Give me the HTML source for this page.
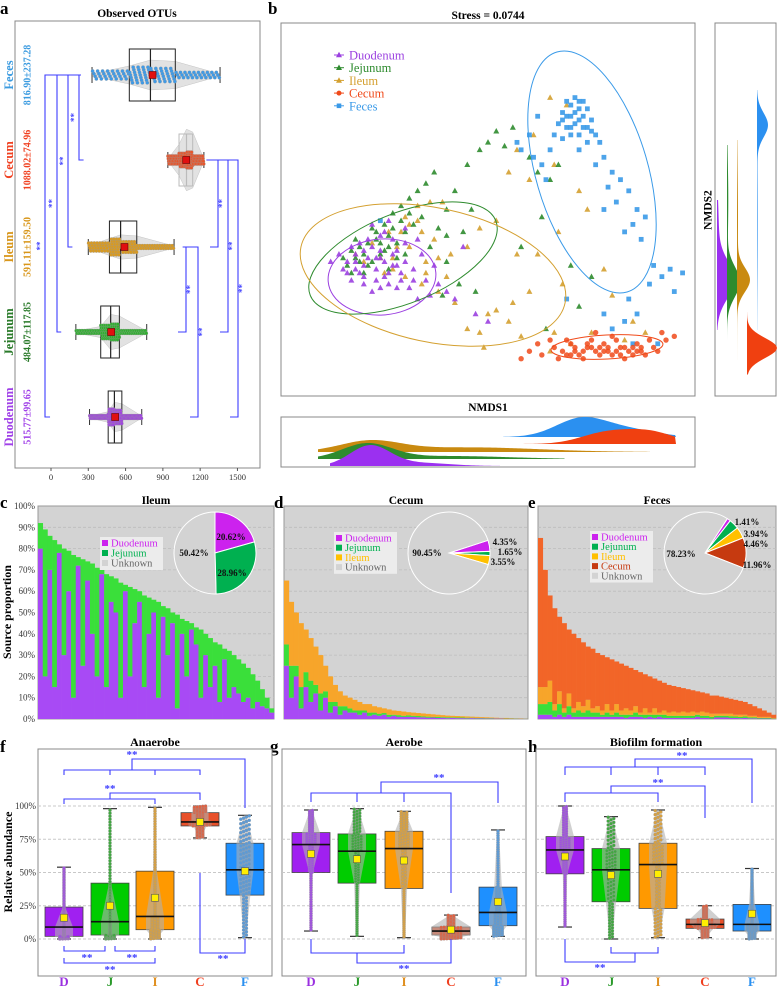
<!DOCTYPE html>
<html><head><meta charset="utf-8"><style>
html,body{margin:0;padding:0;background:#fff;}
svg{display:block;font-family:"Liberation Serif",serif;}
</style></head><body>
<svg id="fig" width="778" height="990" viewBox="0 0 778 990" xmlns="http://www.w3.org/2000/svg"></svg>
<script>
// ---------- DATA ----------
const otuGroups = ["Feces","Cecum","Ileum","Jejunum","Duodenum"];
const otuLabels = ["816.90±237.28","1088.02±74.96","591.11±159.50","484.07±117.85","515.77±99.65"];
const otuStats = [[630,800,1000,330,1360,817],[1030,1090,1140,940,1230,1088],[470,560,690,300,990,591],[400,480,550,200,770,484],[460,510,570,310,730,516]];
const otuTicks = [0,300,600,900,1200,1500];
const duoPts = [[16,36],[18,38],[20,35],[22,40],[24,37],[26,33],[28,39],[30,36],[19,33],[21,42],[25,44],[27,42],[23,31],[29,31],[32,34],[34,38],[17,40],[20,30],[24,29],[31,29],[35,31],[37,35],[22,46],[26,47],[30,45],[33,42],[18,34],[21,37],[25,36],[28,35],[38,30],[40,28],[42,26],[36,27],[33,26],[44,40],[12,36],[14,38],[15,34],[47,22],[50,20],[24,39],[27,38],[19,41],[16,33],[17,31],[20,32],[23,34],[26,30],[29,33],[32,31],[22,28],[25,32],[28,29],[30,41],[24,43],[20,39],[18,36],[23,37],[27,35]];
const jejPts = [[15,37],[17,39],[19,36],[21,41],[23,44],[25,46],[27,49],[29,51],[31,53],[33,55],[35,57],[37,60],[20,33],[24,38],[28,41],[30,44],[32,46],[34,48],[18,42],[22,45],[26,43],[36,40],[38,45],[40,50],[42,55],[45,62],[48,66],[50,68],[52,71],[54,67],[56,72],[60,64],[62,60],[65,58],[67,62],[46,50],[44,44],[40,36],[43,30],[47,28],[39,27],[58,40],[63,48],[70,35],[75,32],[72,24],[64,18],[40,43],[30,38],[26,34],[16,35],[18,37],[20,38],[22,36],[24,41],[26,40],[28,37],[17,33],[21,35],[25,39],[29,47],[31,49],[27,45],[23,42],[19,40]];
const ilePts = [[18,38],[22,41],[26,44],[30,48],[33,51],[36,52],[39,52],[28,40],[34,44],[37,42],[41,38],[45,40],[48,45],[52,47],[55,60],[60,58],[57,66],[61,70],[65,80],[69,78],[66,62],[72,55],[74,50],[67,44],[62,38],[60,28],[68,30],[78,34],[80,27],[85,20],[88,17],[83,15],[75,17],[70,14],[66,17],[58,16],[55,20],[50,22],[48,17],[45,18],[42,25],[38,28],[34,30],[30,32],[27,34],[24,37],[35,36],[31,40],[20,36],[57,38],[29,44],[31,46],[33,47],[27,37],[25,33],[35,33],[38,37],[40,32],[52,23],[56,25],[49,13],[65,12]];
const fecPts = [[68,76],[70,78],[72,77],[71,73],[73,75],[69,72],[74,72],[72,70],[70,70],[67,73],[75,74],[73,79],[71,80],[69,79],[76,70],[74,68],[66,70],[68,69],[77,68],[72,66],[65,66],[61,64],[58,66],[57,68],[63,62],[64,58],[78,64],[80,60],[76,62],[82,58],[79,56],[84,55],[81,52],[86,50],[88,48],[85,46],[83,44],[87,42],[78,50],[90,35],[92,32],[94,34],[97,33],[95,28],[89,30],[86,22],[84,26],[78,22],[80,18],[83,20],[85,14],[91,14],[69,26],[24,47],[62,75],[60,70],[70,75],[72,74],[71,76],[73,72],[69,75],[74,77],[70,72],[72,79],[75,71],[68,74]];
const cecPts = [[66,13],[68,12],[70,14],[72,11],[74,13],[76,12],[78,14],[80,11],[82,13],[84,12],[86,14],[88,11],[90,13],[67,10],[69,15],[71,12],[73,10],[75,15],[77,11],[79,13],[81,15],[83,10],[85,13],[87,12],[89,15],[91,12],[70,11],[74,14],[78,12],[82,11],[86,12],[62,14],[60,12],[58,10],[63,11],[93,15],[95,16],[92,17],[65,15],[80,16],[76,17],[71,13],[73,12],[75,13],[77,13],[79,12],[81,12],[83,13],[85,11],[87,13],[69,11]];
const cDuo = [80,20,70,15,78,30,60,10,72,25,65,40,20,68,15,55,50,10,60,20,45,55,15,40,50,10,48,30,45,5,40,20,42,35,10,30,15,25,8,28,10,15,12,8,10,5,8,6,5,3];
const cJej = [12,69,16,69,4,50,19,67,4,50,9,33,51,2,53,12,16,54,3,42,16,5,43,17,6,45,5,22,5,44,7,26,3,8,32,10,23,11,27,5,22,15,16,18,14,16,10,8,5,2];
const dDuo = [25,10,20,5,15,8,12,4,10,3,6,2,4,3,3,2,3,1.5,2,1.5,2,1,1.5,1,1,1,1,0.8,0.8,0.6,0.7,0.5,0.6,0.4,0.5,0.4,0.4,0.3,0.4,0.3,0.3,0.2,0.2,0.2,0.2,0.1,0.1,0.1,0.1,0.05];
const dJej = [10,15,5,10,7,10,4,8,3,5,2,4,2,2,1,2,1,1.5,1,1,0.8,1,0.5,0.8,0.5,0.7,0.5,0.6,0.4,0.5,0.3,0.5,0.3,0.4,0.3,0.3,0.3,0.3,0.2,0.2,0.2,0.2,0.2,0.1,0.1,0.1,0.1,0.1,0.05,0.05];
const dIle = [30,30,25,30,20,20,18,18,12,12,8,7,5,5,5,4,3,4,3,3,2.2,2.5,2,2,2,1.5,1.5,1.4,1.4,1.3,1.2,1,0.9,0.8,0.7,0.7,0.6,0.6,0.5,0.5,0.4,0.4,0.3,0.3,0.2,0.3,0.2,0.1,0.15,0.05];
const eCec = [70,55,40,45,35,40,30,35,30,30,25,28,25,26,22,24,20,22,20,20,17,19,16,17,14,15,13,13,12,12,11,11,10,10,9,9,8.5,8.5,8,7.5,7,7,6.5,6,5.5,4.5,4,3,2,1.5];
const eIle = [8,8,10,3,6,2,6,2,4,3,5,2,3,2,4,2,4,2,3,2,3,1,3,1,3,1,2,1.5,2,1.5,2,1.5,2,1,2,1.5,1.5,1,1,1,1.2,0.8,1,0.8,0.7,0.7,0.5,0.5,0.5,0.3];
const eJej = [5,5,6,3,5,2,4,2,3,2,3,2,2,1,2,1,2,1,1.5,1,2,1,1.5,1,1.5,1,1.5,1,1,1,1,1,1,1,1,1,0.8,0.8,0.8,0.8,0.8,0.7,0.6,0.7,0.5,0.5,0.3,0.3,0.3,0.1];
const eDuo = [2,2,2,1,2,1,2,1,1,1,1,1,1,1,1,1,1,1,0.5,1,1,1,0.5,1,0.5,1,0.5,0.5,0.5,0.5,0.5,0.5,0.5,1,0.5,0.5,0.2,0.7,0.7,0.7,0.5,0.5,0.4,0.5,0.3,0.3,0.2,0.2,0.2,0.1];
const pieC = [20.62,28.96,50.42];
const pieD = [4.35,1.65,3.55,90.45];
const pieE = [1.41,3.94,4.46,11.96,78.23];
const yTicksC = ["0%","10%","20%","30%","40%","50%","60%","70%","80%","90%","100%"];
const fgCats = ["D","J","I","C","F"];
const anaStats = [[2,9,24,0,54,16],[3,13,42,0,98,25],[7,17,51,0,99,31],[85,88,95,76,100,88],[33,52,72,1,93,51]];
const aerStats = [[50,71,80,6,97,64],[42,66,79,2,98,60],[38,68,81,1,96,59],[3,6,9,0,18,7],[10,20,39,2,82,28]];
const bioStats = [[49,67,77,9,100,62],[28,52,68,0,92,48],[23,56,72,1,97,49],[8,11,15,1,25,12],[6,11,26,0,53,19]];
const relTicks = [0,25,50,75,100];

// ---------- helpers ----------
const NS="http://www.w3.org/2000/svg";
const svg=document.getElementById('fig');
function mk(tag,attrs,parent){const e=document.createElementNS(NS,tag);for(const k in attrs)e.setAttribute(k,attrs[k]);(parent||svg).appendChild(e);return e;}
function txt(s,x,y,size,fill,parent,extra){const t=mk('text',Object.assign({x:x,y:y,'font-size':size,fill:fill||'#000','text-anchor':'middle','font-weight':'bold'},extra||{}),parent);t.textContent=s;return t;}
const BLUE="#3d3dff";
function line(pts,parent){return mk('polyline',{points:pts.map(p=>p.join(',')).join(' '),fill:'none',stroke:BLUE,'stroke-width':1.1},parent);}
function interpQ(st,q){const xs=[0,.25,.5,.75,1],vs=[st[3],st[0],st[1],st[2],st[4]];for(let i=0;i<4;i++){if(q<=xs[i+1]){const t=(q-xs[i])/(xs[i+1]-xs[i]);return vs[i]+t*(vs[i+1]-vs[i]);}}return vs[4];}
function dens(st,v){const vs=[st[3],st[0],st[1],st[2],st[4]];for(let i=0;i<4;i++){if(v<=vs[i+1]){return 0.25/Math.max(vs[i+1]-vs[i],1e-3);}}return 0;}

[['a',0,14],['b',268,14],['c',0,508],['d',274,508],['e',528,508],['f',0,752],['g',270,752],['h',528,752]].forEach(l=>{
 const t=txt(l[0],l[1],l[2],17,'#000',svg,{'text-anchor':'start'});
 
 
});

// ---------- PANEL A ----------
const gA=mk('g',{});


const aT=txt('Observed OTUs',137,17,11.5,'#000',gA);


const aBox=mk('rect',{x:15,y:21,width:245,height:447,fill:'#fff',stroke:'#888','stroke-width':1},gA);


const ax=v=>51+v*0.1243;
const aRows=[75,160,247,332,417];
const aCol=['#3d9ae8','#e8542a','#d99a20','#2fb02f','#a045e0'];
const aLab=['#3b9be0','#f04020','#d8961a','#2a7a2a','#a040e8'];
otuTicks.forEach(t=>{
 const tk=mk('line',{x1:ax(t),x2:ax(t),y1:468,y2:471,stroke:'#555'},gA);
 
 
 const tl=txt(String(t),ax(t),480,8.5,'#333',gA,{'font-weight':'normal'});
 
 
});
otuStats.forEach((st,i)=>{
 const y=aRows[i],g=mk('g',{},gA);
 
 
 const vs=[st[3],st[0],st[1],st[2],st[4]];let dm=0;vs.forEach(v=>dm=Math.max(dm,dens(st,v-0.01)));
 const half=vs.map((v,k)=>k==0||k==4?1:Math.min(30,dens(st,v-0.01)/dm*(i==1?28:16)));
 half[2]=Math.max(half[1],half[3])*1.1;
 let d='M'+ax(vs[0])+','+y;vs.forEach((v,k)=>d+=' L'+ax(v)+','+(y-half[k]));for(let k=4;k>=0;k--)d+=' L'+ax(vs[k])+','+(y+half[k]);d+='Z';
 const vio=mk('path',{d:d,fill:'#cfcfcf','fill-opacity':0.6,stroke:'#c4c4c4','stroke-width':0.5},g);
 
 
 const bh=i==1?26:26;
 const bx=mk('rect',{x:ax(st[0]),y:y-bh,width:ax(st[2])-ax(st[0]),height:bh*2,fill:'none',stroke:i==1?'#bbb':'#222','stroke-width':1},g);
 
 
 const md=mk('line',{x1:ax(st[1]),x2:ax(st[1]),y1:y-bh,y2:y+bh,stroke:i==1?'#bbb':'#222','stroke-width':1.2},g);
 
 
 [st[3],st[4]].forEach(w=>{const wl=mk('line',{x1:ax(w),x2:ax(w),y1:y-8,y2:y+8,stroke:'#333','stroke-width':1},g);
  
  });
 const wline=mk('line',{x1:ax(st[3]),x2:ax(st[4]),y1:y,y2:y,stroke:'#bbb','stroke-width':0.6},g);
 
 
 const n=120;
 for(let j=0;j<n;j++){const q=(j+0.5)/n,v=interpQ(st,q);const k=Math.max(1,Math.round(dens(st,v)/dm*7));const off=((j%k)-(k-1)/2)*2.6;
  const c=mk('circle',{cx:ax(v),cy:y+off,r:1.7,fill:aCol[i],stroke:'#999','stroke-width':0.3},g);
  
  }
 const mn=mk('rect',{x:ax(st[5])-3.5,y:y-3.5,width:7,height:7,fill:'#e01010',stroke:'#600','stroke-width':0.6},g);
 
 
 const nl=txt(otuGroups[i],10,y,12.5,aLab[i],gA,{transform:'rotate(-90 10 '+y+')','dominant-baseline':'middle'});
 
 
 const vl=txt(otuLabels[i],28,y,10,aLab[i],gA,{transform:'rotate(-90 28 '+y+')','dominant-baseline':'middle'});
 
 
});
const aBr=[[45,75,417,ax(-40)],[57,75,332,ax(50)],[68,75,247,ax(140)],[79,75,160,ax(230)]];
aBr.forEach(b=>{const p=line([[ax(240),b[1]],[b[0],b[1]],[b[0],b[2]],[b[3]+4,b[2]]],gA);
 
 
 const s=txt('**',b[0]-4,(b[1]+b[2])/2,9,BLUE,gA,{transform:'rotate(-90 '+(b[0]-4)+' '+((b[1]+b[2])/2)+')','dominant-baseline':'middle'});
 
 });
const aBrR=[[186,247,332,ax(1060),ax(1100)],[198,247,417,ax(1060),ax(1200)],[218,160,247,ax(1250),ax(1300)],[228,160,332,ax(1270),ax(1430)],[238,160,417,ax(1290),ax(1520)]];
aBrR.forEach(b=>{const p=line([[b[3],b[1]],[b[0],b[1]],[b[0],b[2]],[b[0]-8,b[2]]],gA);
 
 
 const s=txt('**',b[0]+5,(b[1]+b[2])/2,9,BLUE,gA,{transform:'rotate(-90 '+(b[0]+5)+' '+((b[1]+b[2])/2)+')','dominant-baseline':'middle'});
 
 });

// ---------- PANEL B ----------
const gB=mk('g',{});


const bt=txt('Stress = 0.0744',488,19,11.5,'#000',gB);


const bBox=mk('rect',{x:281,y:23,width:414,height:373,fill:'#fff',stroke:'#888'},gB);


const sx=v=>281+v*4.14, sy=v=>396-v*3.73;
const ellipses=[['duodenum',382,277,54,38,-5,'#9b40e0'],['jejunum',403,258,100,45,-22,'#2e8b2e'],['ileum',433,275,135,67,12,'#d4a030'],['feces',592,172,125,56,73.7,'#3a9ae8'],['cecum',607,347,56,12,-3,'#f04a1a']];
const series=[['ileum',ilePts,'#d4a030','tri'],['jejunum',jejPts,'#2e8b2e','tri'],['duodenum',duoPts,'#9b40e0','tri'],['feces',fecPts,'#3a9ae8','sq'],['cecum',cecPts,'#f04a1a','dot']];
series.forEach(s=>{const g=mk('g',{},gB);
 
 
 s[1].forEach(p=>{const X=sx(p[0]),Y=sy(p[1]);let m;
  if(s[3]=='tri')m=mk('polygon',{points:`${X},${Y-3.2} ${X-3},${Y+2.3} ${X+3},${Y+2.3}`,fill:s[2],'fill-opacity':0.9},g);
  else if(s[3]=='sq')m=mk('rect',{x:X-2.4,y:Y-2.4,width:4.8,height:4.8,fill:s[2],'fill-opacity':0.9},g);
  else m=mk('circle',{cx:X,cy:Y,r:2.7,fill:s[2],'fill-opacity':0.85},g);
  
  });});
ellipses.forEach(e=>{const el=mk('ellipse',{cx:e[1],cy:e[2],rx:e[3],ry:e[4],transform:`rotate(${e[5]} ${e[1]} ${e[2]})`,fill:'none',stroke:e[6],'stroke-width':1},gB);
 
 });
const legB=[['Duodenum','#9b40e0','tri'],['Jejunum','#2e8b2e','tri'],['Ileum','#d4a030','tri'],['Cecum','#f04a1a','dot'],['Feces','#3a9ae8','sq']];
legB.forEach((l,i)=>{const y=55+i*12.7,X=339;const g=mk('g',{},gB);
 
 
 mk('line',{x1:X-5,x2:X+5,y1:y,y2:y,stroke:l[1],'stroke-width':1},g);
 if(l[2]=='tri')mk('polygon',{points:`${X},${y-3.2} ${X-3},${y+2.3} ${X+3},${y+2.3}`,fill:l[1]},g);
 else if(l[2]=='sq')mk('rect',{x:X-2.3,y:y-2.3,width:4.6,height:4.6,fill:l[1]},g);
 else mk('circle',{cx:X,cy:y,r:2.5,fill:l[1]},g);
 txt(l[0],349,y+4.5,12.5,l[1],g,{'text-anchor':'start','font-weight':'normal'});});
const nm1=txt('NMDS1',488,411,11.5,'#000',gB);


const nm2=txt('NMDS2',709,210,11.5,'#000',gB,{transform:'rotate(-90 709 210)','dominant-baseline':'middle'});


const rBox=mk('rect',{x:715,y:23,width:61,height:373,fill:'#fff',stroke:'#888'},gB);


const bBox2=mk('rect',{x:281,y:417,width:414,height:50,fill:'#fff',stroke:'#888'},gB);


function mix(comps,t){let s=0;comps.forEach(c=>s+=c[2]*Math.exp(-0.5*Math.pow((t-c[0])/c[1],2)));return s;}
const densX=[['ileum','#c98a10',452,12,318,650,[[370,30,1],[470,70,0.45]]],['jejunum','#2e8b2e',459,16,318,565,[[367,25,1],[450,60,0.2]]],['duodenum','#9b30f0',466,21,330,500,[[370,20,1],[420,30,0.15]]],['feces','#2b90f0',437,20,503,676,[[580,25,1],[625,30,0.45]]],['cecum','#f04010',444,15,515,676,[[605,25,0.9],[650,25,1]]]];
densX.forEach(p=>{let mx=0;for(let t=p[4];t<=p[5];t++)mx=Math.max(mx,mix(p[6],t));let d=`M${p[4]},${p[2]}`;
 for(let t=p[4];t<=p[5];t+=2)d+=` L${t},${p[2]-mix(p[6],t)/mx*p[3]}`;d+=` L${p[5]},${p[2]}Z`;
 const pa=mk('path',{d:d,fill:p[1]},gB);
 
 });
const densY=[['duodenum','#9b30f0',717,18,200,330,[[280,18,1],[230,30,0.1]]],['jejunum','#2e8b2e',727,13,145,340,[[282,15,1],[200,40,0.1]]],['ileum','#c98a10',737,13,140,360,[[280,12,1],[220,50,0.08]]],['feces','#2b90f0',757,11,90,330,[[125,12,1],[220,60,0.06]]],['cecum','#f04010',747,30,312,375,[[348,10,1]]]];
densY.forEach(p=>{let mx=0;for(let t=p[4];t<=p[5];t++)mx=Math.max(mx,mix(p[6],t));let d=`M${p[2]},${p[4]}`;
 for(let t=p[4];t<=p[5];t+=2)d+=` L${p[2]+mix(p[6],t)/mx*p[3]},${t}`;d+=` L${p[2]},${p[5]}Z`;
 const pa=mk('path',{d:d,fill:p[1]},gB);
 
 });

// ---------- PANELS C-E ----------
const Y0=719,Y100=506;
const pctY=v=>Y0-(Y0-Y100)*v/100;
function areaPanel(name,title,x0,x1,layers,pie,pieCx,pieLabels,legend,pieStart){
 const g=mk('g',{});
 
 
 const tt=txt(title,(x0+x1)/2,504,11.5,'#000',g);
 
 
 const bg=mk('rect',{x:x0,y:Y100,width:x1-x0,height:Y0-Y100,fill:'#d3d3d3',stroke:'#999'},g);
 
 
 for(let k=1;k<10;k++){const gl=mk('line',{x1:x0,x2:x1,y1:pctY(k*10),y2:pctY(k*10),stroke:'#bdbdbd','stroke-dasharray':'3,2','stroke-width':0.8},g);
  
  }
 const n=layers[0][0].length,w=(x1-x0)/n;
 for(let i=0;i<n;i++){let acc=0;layers.forEach(L=>{const v=L[0][i];const r=mk('rect',{x:x0+i*w,y:pctY(acc+v),width:w+0.3,height:pctY(acc)-pctY(acc+v),fill:L[1]},g);
  
  
  acc+=v;});}
 const cy=553,R=41;let a=pieStart;const tot=pie[0].reduce((s,v)=>s+v,0);
 pie[0].forEach((v,k)=>{const a2=a+v/tot*360;const p=(ang)=>[pieCx+R*Math.sin(ang*Math.PI/180),cy-R*Math.cos(ang*Math.PI/180)];
  const s=p(a),e=p(a2);const lg=(a2-a)>180?1:0;
  const sl=mk('path',{d:`M${pieCx},${cy} L${s[0]},${s[1]} A${R},${R} 0 ${lg} 1 ${e[0]},${e[1]}Z`,fill:pie[1][k],stroke:'#fff','stroke-width':1},g);
  
  
  a=a2;});
 pieLabels.forEach(l=>{const t=txt(l[0],l[1],l[2],9,'#111',g,{'dominant-baseline':'middle'});
  
  });
 const lg=mk('rect',{x:legend.x-4,y:legend.y-6,width:legend.w,height:legend.items.length*legend.dy+3,fill:'#ececec'},g);
 
 
 legend.items.forEach((it,k)=>{const y=legend.y+k*legend.dy;
  const sw=mk('rect',{x:legend.x-2,y:y-3,width:6,height:6,fill:it[1]},g);
  
  
  const t=txt(it[0],legend.x+7,y+3.5,10.5,it[2],g,{'text-anchor':'start','font-weight':'normal'});
  
  });
 return g;
}
const MAG='#cc22ee',GRN='#00b050',YEL='#ffc000',RED='#c63a10',UNK='#d3d3d3';
areaPanel('c-ileum','Ileum',38,274,[[cDuo,'#a84af5'],[cJej,'#3adf3a']],[pieC,[MAG,GRN,UNK]],215,[['20.62%',231,538],['28.96%',232,574],['50.42%',194,554]],{x:104,y:543,dy:10,w:63,items:[['Duodenum',MAG,MAG],['Jejunum',GRN,GRN],['Unknown',UNK,'#666']]},0);
areaPanel('d-cecum','Cecum',284,528,[[dDuo,'#a84af5'],[dJej,'#3adf3a'],[dIle,'#f7a52a']],[pieD,[MAG,GRN,YEL,UNK]],449,[['4.35%',505,543],['1.65%',510,553],['3.55%',503,563],['90.45%',427,554]],{x:338,y:538,dy:9.7,w:63,items:[['Duodenum',MAG,MAG],['Jejunum',GRN,GRN],['Ileum',YEL,YEL],['Unknown',UNK,'#666']]},72);
areaPanel('e-feces','Feces',538,776,[[eDuo,'#a84af5'],[eJej,'#3adf3a'],[eIle,'#f7a52a'],[eCec,'#f26528']],[pieE,[MAG,GRN,YEL,RED,UNK]],705,[['1.41%',747,523],['3.94%',756,535],['4.46%',756,545],['11.96%',757,566],['78.23%',681,555]],{x:594,y:537,dy:9.7,w:63,items:[['Duodenum',MAG,MAG],['Jejunum',GRN,GRN],['Ileum',YEL,YEL],['Cecum',RED,RED],['Unknown',UNK,'#666']]},33);
yTicksC.forEach((s,k)=>{const t=txt(s,35,pctY(k*10)+3,9,'#333',svg,{'text-anchor':'end','font-weight':'normal'});
 
 });
const sp=txt('Source proportion',8,612,12,'#000',svg,{transform:'rotate(-90 8 612)','dominant-baseline':'middle'});



// ---------- PANELS F-H ----------
const fy=v=>939-v*1.33;
const boxCol=['#a020f0','#00cc00','#ff9900','#e8502a','#1e90ff'];
const dotCol=['#a050e0','#40a840','#d8a040','#e06040','#5a9ad8'];
const catCol=['#9a30e0','#2a9a2a','#e09020','#f04020','#2a90f0'];
function boxPanel(name,title,x0,x1,xs,stats,brackets,stars){
 const g=mk('g',{});
 
 
 const tt=txt(title,(x0+x1)/2,746,12,'#000',g);
 
 
 const fr=mk('rect',{x:x0,y:749,width:x1-x0,height:227,fill:'#fff',stroke:'#888'},g);
 
 
 relTicks.forEach(t=>{const gl=mk('line',{x1:x0,x2:x1,y1:fy(t),y2:fy(t),stroke:'#c8c8c8','stroke-dasharray':'3,2'},g);
  
  });
 stats.forEach((st,i)=>{const X=xs[i];const gg=mk('g',{},g);
  
  
  const bx=mk('rect',{x:X-19,y:fy(st[2]),width:38,height:fy(st[0])-fy(st[2]),fill:boxCol[i],stroke:'#444','stroke-width':0.8},gg);
  
  
  [st[3],st[4]].forEach(w=>{const wl=mk('line',{x1:X-7,x2:X+7,y1:fy(w),y2:fy(w),stroke:'#333','stroke-width':1.2},gg);
   
   });
  const vs=[st[3],st[0],st[1],st[2],st[4]];let dm=0;vs.forEach(v=>dm=Math.max(dm,dens(st,v-0.01)));
  const half=vs.map((v,k)=>k==0||k==4?1:Math.min(20,dens(st,v-0.01)/dm*(i==3?20:9)));half[2]=Math.max(half[1],half[3]);
  let d='M'+X+','+fy(vs[0]);vs.forEach((v,k)=>d+=' L'+(X-half[k])+','+fy(v));for(let k=4;k>=0;k--)d+=' L'+(X+half[k])+','+fy(vs[k]);d+='Z';
  const vio=mk('path',{d:d,fill:'#b0b0b0','fill-opacity':0.6},gg);
  
  
  const n=100;
  for(let j=0;j<n;j++){const q=(j+0.5)/n,v=interpQ(st,q);const k=Math.max(1,Math.round(dens(st,v)/dm*(i==3?8:4)));const off=((j%k)-(k-1)/2)*2.8;
   const c=mk('circle',{cx:X+off,cy:fy(v),r:1.6,fill:dotCol[i],stroke:'#999','stroke-width':0.3},gg);
   
   }
  const md=mk('line',{x1:X-19,x2:X+19,y1:fy(st[1]),y2:fy(st[1]),stroke:'#111','stroke-width':1.6},gg);
  
  
  const mn=mk('rect',{x:X-3.5,y:fy(st[5])-3.5,width:7,height:7,fill:'#ffee00',stroke:'#555','stroke-width':0.6},gg);
  
  
  const cl=txt(fgCats[i],X,986,13,catCol[i],g);
  
  });
 brackets.forEach(b=>{const p=line(b,g);
  
  });
 stars.forEach(s=>{const t=txt('**',s[0],s[1],11,BLUE,g);
  
  });
}
const fx=[64,110,155,200,245],gx=[311,357,404,451,498],hx=[565,611,658,705,752];
relTicks.forEach(t=>{const l=txt(t+'%',36,fy(t)+3,9,'#333',svg,{'text-anchor':'end','font-weight':'normal'});
 
 });
const ra=txt('Relative abundance',9,862,12,'#000',svg,{transform:'rotate(-90 9 862)','dominant-baseline':'middle'});


boxPanel('f-anaerobe','Anaerobe',38,272,fx,anaStats,
 [[[64,775],[64,770],[200,770],[200,775]],[[110,770],[110,775]],[[155,770],[155,775]],[[132,770],[132,759],[245,759],[245,808]],
  [[64,804],[64,799],[155,799],[155,804]],[[110,799],[110,793],[200,793],[200,800]],
  [[64,946],[64,951],[105,951],[105,946]],[[115,946],[115,951],[155,951],[155,946]],[[64,958],[64,963],[155,963],[155,958]],
  [[200,873],[200,953],[245,953],[245,939]]],
 [[132,758],[110,792],[87,961],[132,961],[110,973],[223,962]]);
boxPanel('g-aerobe','Aerobe',282,526,gx,aerStats,
 [[[311,802],[311,793],[451,793],[451,893]],[[357,793],[357,802]],[[404,793],[404,802]],[[381,793],[381,782],[498,782],[498,803]],
  [[311,939],[311,953],[404,953],[404,945]],[[357,953],[357,963],[451,963],[451,939]]],
 [[439,781],[404,972]]);
boxPanel('h-biofilm-formation','Biofilm formation',536,776,hx,bioStats,
 [[[565,775],[565,767],[705,767],[705,775]],[[611,767],[611,775]],[[658,767],[658,775]],[[635,767],[635,759],[752,759],[752,803]],
  [[565,802],[565,793],[658,793],[658,802]],[[611,793],[611,786],[705,786],[705,818]],
  [[611,947],[611,953],[658,953],[658,947]],[[635,953],[635,962],[565,962],[565,939]]],
 [[682,759],[658,786],[600,971]]);
</script>
</body></html>
